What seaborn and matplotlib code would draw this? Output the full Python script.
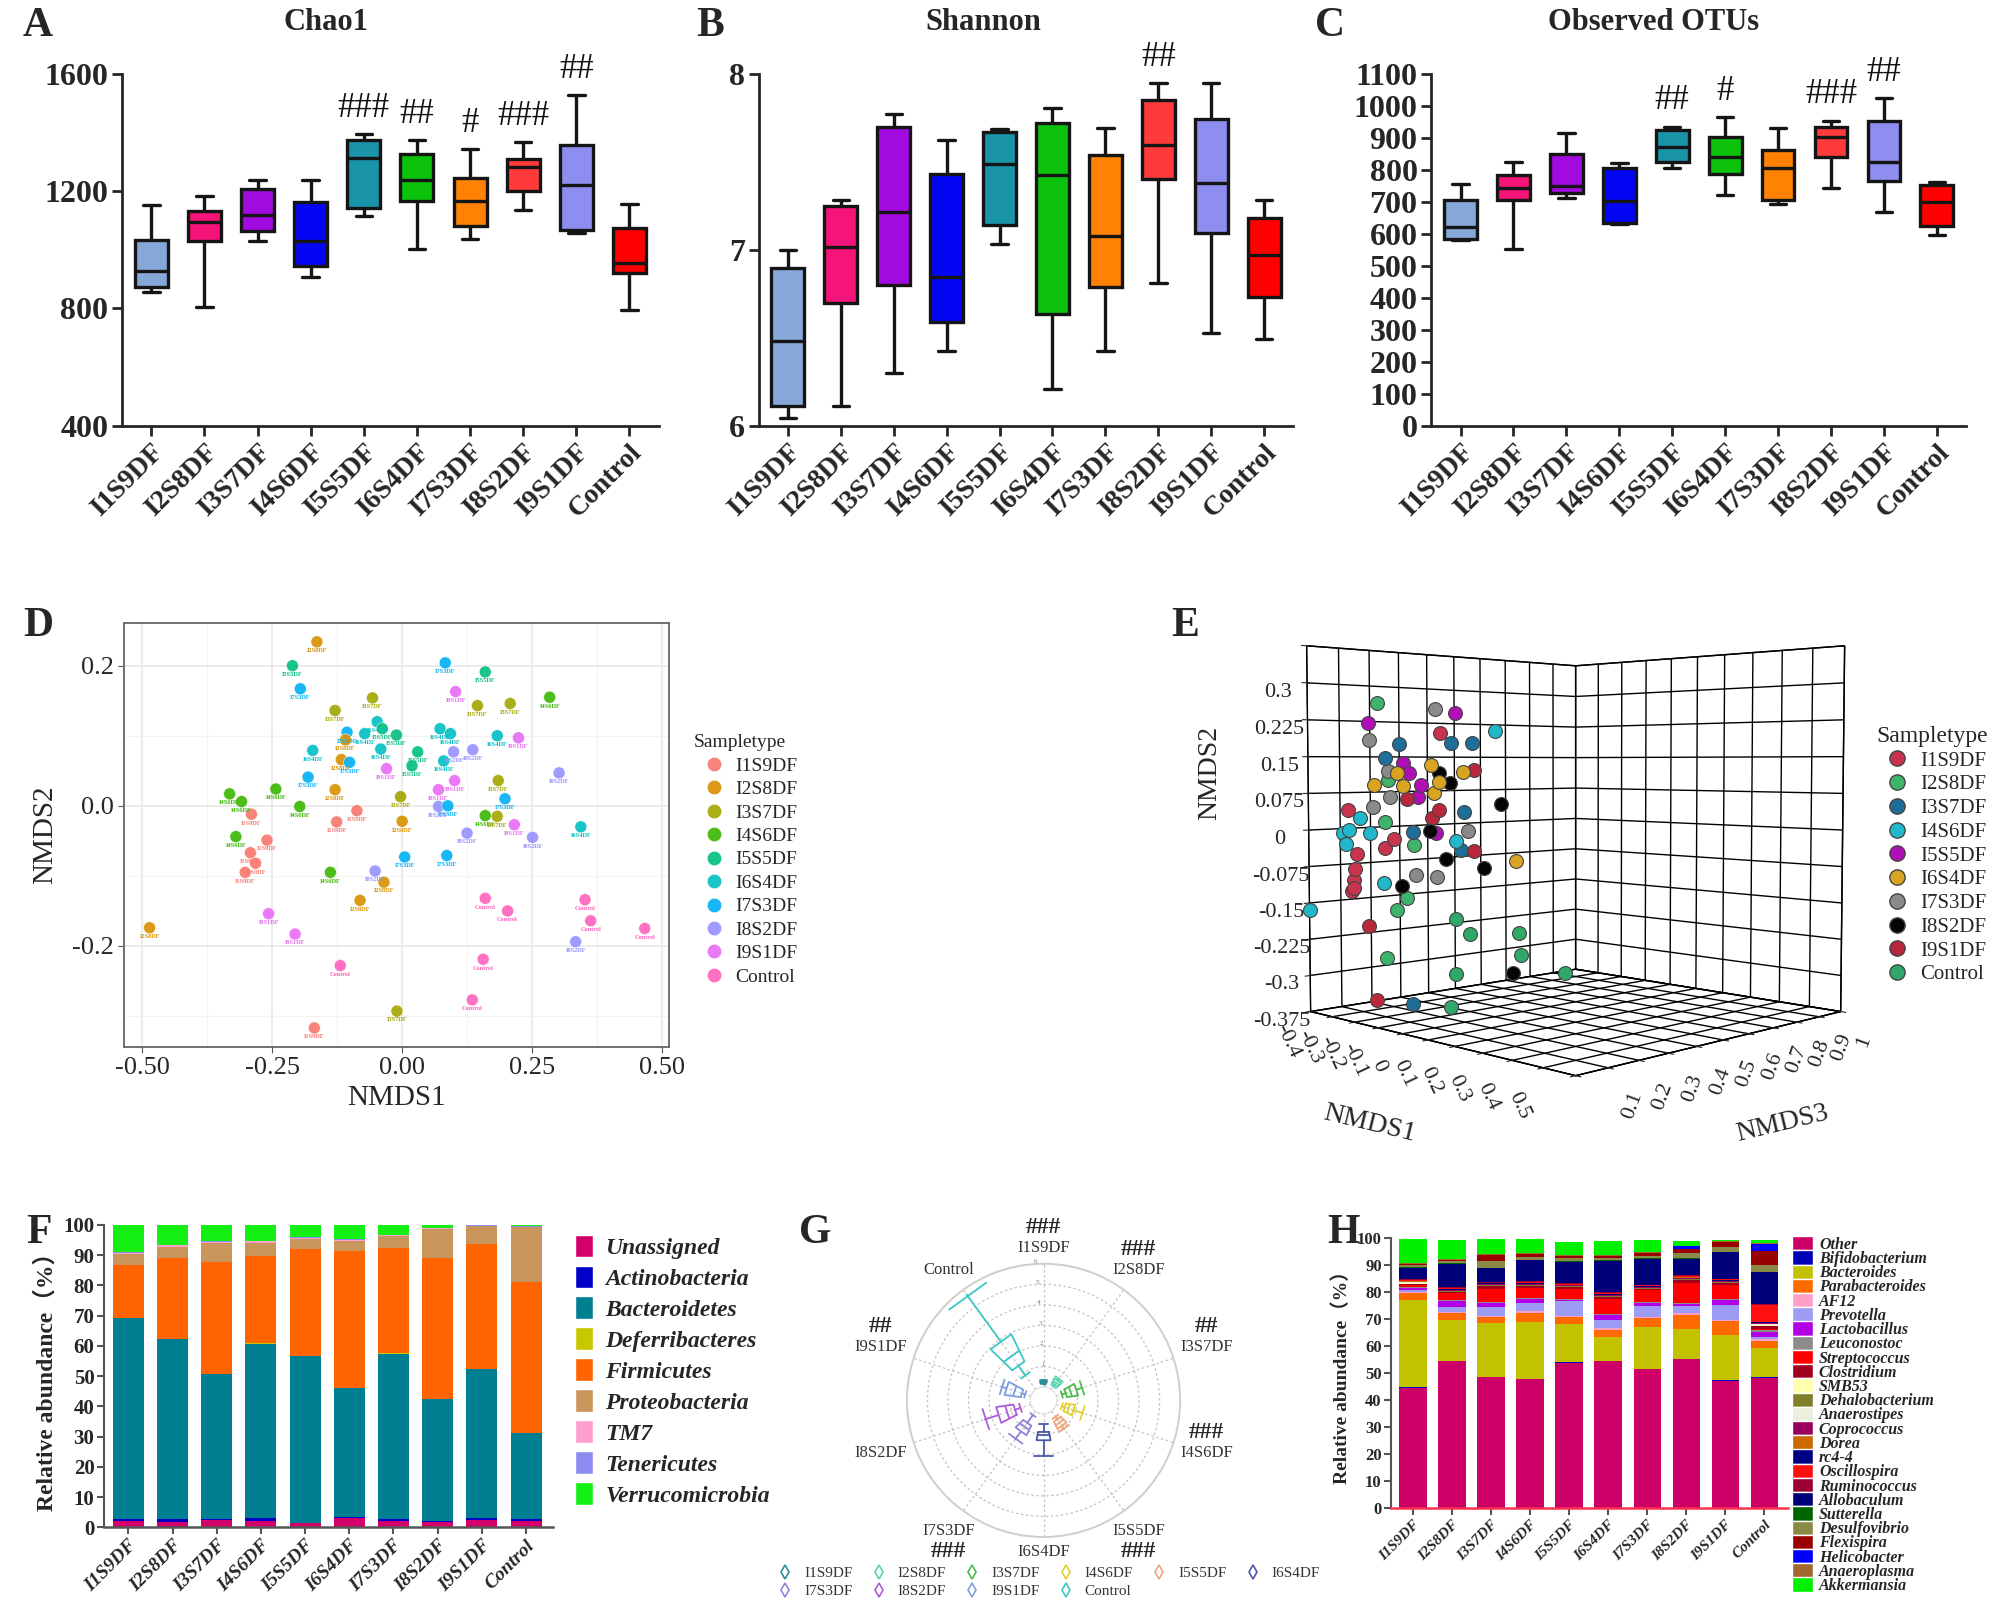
import matplotlib
matplotlib.use("Agg")
import matplotlib.pyplot as plt
import numpy as np
import pandas as pd
import seaborn as sns
from matplotlib.lines import Line2D
from matplotlib.patches import Patch

sns.set_style("ticks")
plt.rcParams["font.family"] = ["Liberation Serif", "Noto Sans CJK SC"]
plt.rcParams["axes.unicode_minus"] = False

GROUPS = ["I1S9DF", "I2S8DF", "I3S7DF", "I4S6DF", "I5S5DF",
          "I6S4DF", "I7S3DF", "I8S2DF", "I9S1DF", "Control"]
BOX_COLORS = ["#86A8D8", "#F51478", "#A20BE0", "#0505F5", "#1A94A8",
              "#0BC10B", "#FF8205", "#FF3A3A", "#8E8EF0", "#FF0000"]

chao1_min = [856, 804, 1031, 908, 1116, 1005, 1037, 1138, 1059, 796]
chao1_q1 = [874, 1029, 1064, 944, 1143, 1168, 1082, 1201, 1068, 920]
chao1_med = [929, 1096, 1121, 1031, 1316, 1240, 1168, 1283, 1223, 955]
chao1_q3 = [1034, 1134, 1207, 1165, 1376, 1328, 1247, 1312, 1360, 1074]
chao1_max = [1155, 1183, 1240, 1240, 1398, 1376, 1346, 1370, 1530, 1158]
chao1_marks = ["", "", "", "", "###", "##", "#", "###", "##", ""]

# ---- B: Shannon
shan_min = [6.044, 6.111, 6.30, 6.427, 7.032, 6.21, 6.423, 6.81, 6.528, 6.492]
shan_q1 = [6.111, 6.70, 6.80, 6.589, 7.143, 6.633, 6.79, 7.405, 7.097, 6.73]
shan_med = [6.482, 7.016, 7.214, 6.847, 7.49, 7.425, 7.079, 7.60, 7.381, 6.972]
shan_q3 = [6.895, 7.25, 7.70, 7.431, 7.671, 7.722, 7.54, 7.855, 7.748, 7.183]
shan_max = [7.00, 7.284, 7.774, 7.627, 7.688, 7.808, 7.694, 7.95, 7.95, 7.284]
shan_marks = ["", "", "", "", "", "", "", "##", "", ""]

# ---- C: Observed OTUs
otu_min = [580, 552, 713, 630, 807, 721, 695, 743, 669, 598]
otu_q1 = [585, 708, 729, 635, 825, 788, 708, 840, 766, 626]
otu_med = [621, 743, 749, 704, 874, 840, 807, 903, 827, 699]
otu_q3 = [708, 785, 851, 807, 927, 905, 864, 936, 955, 754]
otu_max = [758, 827, 918, 824, 936, 966, 933, 955, 1025, 762]
otu_marks = ["", "", "", "", "##", "#", "", "###", "##", ""]

# ---- D: NMDS (2D)
GG_COLORS = ["#F8766D", "#D89000", "#A3A500", "#39B600", "#00BF7D",
             "#00BFC4", "#00B0F6", "#9590FF", "#E76BF3", "#FF62BC"]
d_group = ["I2S8DF", "I5S5DF", "I7S3DF", "I3S7DF", "I3S7DF", "I7S3DF", "I5S5DF", "I9S1DF",
           "I3S7DF", "I3S7DF", "I4S6DF", "I6S4DF", "I5S5DF", "I6S4DF", "I7S3DF", "I2S8DF",
           "I5S5DF", "I6S4DF", "I6S4DF", "I5S5DF", "I2S8DF", "I7S3DF", "I9S1DF", "I5S5DF",
           "I6S4DF", "I6S4DF", "I6S4DF", "I8S2DF", "I8S2DF", "I6S4DF", "I9S1DF", "I8S2DF",
           "I7S3DF", "I9S1DF", "I3S7DF", "I9S1DF", "I7S3DF", "I3S7DF", "I2S8DF", "I4S6DF",
           "I4S6DF", "I4S6DF", "I1S9DF", "I4S6DF", "I1S9DF", "I1S9DF", "I2S8DF", "I8S2DF",
           "I7S3DF", "I4S6DF", "I3S7DF", "I9S1DF", "I8S2DF", "I8S2DF", "I6S4DF", "I4S6DF",
           "I1S9DF", "I1S9DF", "I1S9DF", "I1S9DF", "I7S3DF", "I7S3DF", "I4S6DF", "I8S2DF",
           "I2S8DF", "I2S8DF", "Control", "Control", "Control", "Control", "Control", "I9S1DF",
           "I9S1DF", "I2S8DF", "I8S2DF", "Control", "Control", "Control", "I3S7DF", "I1S9DF"]
d_nmds1 = [-0.164, -0.211, -0.196, -0.057, -0.129, 0.083, 0.160, 0.103, 0.145, 0.208,
           0.284, -0.048, -0.038, -0.072, -0.106, -0.109, -0.011, -0.041, -0.172, 0.030,
           -0.117, -0.101, -0.030, 0.019, 0.073, 0.093, 0.080, 0.099, 0.136, 0.183,
           0.224, 0.302, -0.181, 0.101, 0.185, 0.070, 0.198, -0.003, -0.129, -0.243,
           -0.332, -0.309, -0.290, -0.197, -0.087, -0.126, 0.000, 0.070, 0.088, 0.160,
           0.183, 0.216, 0.125, 0.251, 0.344, -0.320, -0.260, -0.292, -0.282, -0.302,
           0.005, 0.086, -0.138, -0.052, -0.035, -0.081, 0.160, 0.203, 0.352, 0.363,
           0.467, -0.257, -0.206, -0.486, 0.334, -0.119, 0.156, 0.135, -0.010, -0.169]
d_nmds2 = [0.234, 0.200, 0.167, 0.154, 0.136, 0.204, 0.191, 0.163, 0.143, 0.146,
           0.155, 0.120, 0.110, 0.103, 0.105, 0.094, 0.101, 0.081, 0.079, 0.077,
           0.066, 0.062, 0.053, 0.057, 0.110, 0.103, 0.064, 0.077, 0.080, 0.100,
           0.097, 0.047, 0.041, 0.036, 0.036, 0.023, 0.010, 0.013, 0.023, 0.024,
           0.017, 0.006, -0.012, -0.001, -0.007, -0.023, -0.022, -0.001, 0.000, -0.014,
           -0.015, -0.027, -0.039, -0.045, -0.030, -0.044, -0.049, -0.067, -0.082, -0.095,
           -0.073, -0.071, -0.095, -0.093, -0.109, -0.135, -0.132, -0.150, -0.134, -0.164,
           -0.175, -0.154, -0.183, -0.174, -0.194, -0.228, -0.219, -0.277, -0.293, -0.317]

# ---- E: NMDS (3D), screen positions converted to estimated coordinates
E_COLORS = ["#C8334D", "#3DB36B", "#1F6E99", "#22B8CC", "#B00FB5",
            "#D9A521", "#8A8A8A", "#050505", "#B8283C", "#2FA86A"]
e_group = ["I2S8DF", "I5S5DF", "I7S3DF", "I5S5DF", "I7S3DF", "I1S9DF", "I4S6DF", "I3S7DF",
           "I3S7DF", "I3S7DF", "I3S7DF", "I5S5DF", "I7S3DF", "I6S4DF", "I5S5DF", "I6S4DF",
           "I8S2DF", "I6S4DF", "I9S1DF", "I6S4DF", "I2S8DF", "I6S4DF", "I5S5DF", "I6S4DF",
           "I8S2DF", "I7S3DF", "I9S1DF", "I5S5DF", "I6S4DF", "I9S1DF", "I9S1DF", "I8S2DF",
           "I3S7DF", "I7S3DF", "I1S9DF", "I4S6DF", "I2S8DF", "I7S3DF", "I8S2DF", "I5S5DF",
           "I3S7DF", "I4S6DF", "I4S6DF", "I4S6DF", "I1S9DF", "I1S9DF", "I2S8DF", "I4S6DF",
           "I3S7DF", "I9S1DF", "I4S6DF", "I8S2DF", "I8S2DF", "I6S4DF", "I1S9DF", "I1S9DF",
           "I7S3DF", "I7S3DF", "I1S9DF", "I1S9DF", "I1S9DF", "I4S6DF", "I8S2DF", "I2S8DF",
           "I2S8DF", "Control", "I4S6DF", "Control", "Control", "Control", "I9S1DF", "Control",
           "I8S2DF", "I2S8DF", "Control", "Control", "I3S7DF", "I9S1DF"]
e_nmds1 = [-0.203, -0.244, 0.033, 0.111, -0.238, 0.054, 0.255, -0.110, 0.095, 0.171,
           -0.172, -0.096, -0.158, -0.121, -0.069, 0.019, 0.050, 0.140, 0.181, -0.217,
           -0.156, -0.094, -0.022, 0.048, 0.089, -0.151, -0.080, -0.034, 0.027, 0.048,
           0.019, 0.276, 0.142, -0.223, -0.336, -0.279, -0.172, 0.157, 0.013, 0.037,
           -0.055, -0.330, -0.357, -0.238, -0.135, -0.172, -0.053, 0.111, 0.132, 0.177,
           -0.347, 0.074, 0.214, 0.327, -0.295, -0.305, -0.045, 0.037, -0.312, -0.310,
           -0.320, -0.180, -0.104, -0.084, -0.125, 0.111, -0.400, 0.161, 0.335, 0.341,
           -0.244, 0.485, 0.315, -0.166, 0.109, 0.089, -0.059, -0.213]
e_nmds2 = [0.257, 0.217, 0.240, 0.230, 0.183, 0.193, 0.195, 0.174, 0.175, 0.173,
           0.147, 0.137, 0.122, 0.117, 0.117, 0.134, 0.118, 0.120, 0.125, 0.094,
           0.103, 0.092, 0.095, 0.102, 0.099, 0.071, 0.068, 0.071, 0.080, 0.048,
           0.033, 0.063, 0.046, 0.050, 0.041, 0.025, 0.020, 0.012, 0.007, 0.005,
           0.003, -0.001, -0.008, -0.003, -0.013, -0.032, -0.022, -0.009, -0.024, -0.025,
           -0.030, -0.043, -0.054, -0.036, -0.049, -0.079, -0.080, -0.079, -0.103, -0.118,
           -0.126, -0.102, -0.103, -0.126, -0.153, -0.154, -0.164, -0.179, -0.165, -0.204,
           -0.193, -0.222, -0.238, -0.250, -0.258, -0.322, -0.332, -0.340]
e_nmds3 = [0.08, 0.08, 0.08, 0.08, 0.08, 0.08, 0.08, 0.08, 0.08, 0.08,
           0.08, 0.08, 0.08, 0.08, 0.08, 0.08, 0.08, 0.08, 0.08, 0.08,
           0.08, 0.08, 0.08, 0.08, 0.08, 0.08, 0.08, 0.08, 0.08, 0.08,
           0.08, 0.08, 0.08, 0.08, 0.08, 0.08, 0.08, 0.08, 0.08, 0.08,
           0.08, 0.08, 0.08, 0.08, 0.08, 0.08, 0.08, 0.08, 0.08, 0.08,
           0.08, 0.08, 0.08, 0.08, 0.08, 0.08, 0.08, 0.08, 0.08, 0.08,
           0.08, 0.08, 0.08, 0.08, 0.08, 0.08, 0.00, 0.08, 0.08, 0.08,
           0.08, 0.08, 0.08, 0.08, 0.08, 0.08, 0.08, 0.08]

# ---- F: phylum relative abundance (%)
PHYLA = ["Unassigned", "Actinobacteria", "Bacteroidetes", "Deferribacteres", "Firmicutes",
         "Proteobacteria", "TM7", "Tenericutes", "Verrucomicrobia"]
PHYLA_COLORS = ["#D4006A", "#0000C8", "#007E92", "#C8C800", "#FF6400",
                "#C8955A", "#FF9FCF", "#8C8CF0", "#14F014"]
f_unassigned = [2.0, 1.9, 2.5, 2.2, 1.3, 3.2, 2.2, 1.8, 2.5, 2.1]
f_actino = [0.9, 0.8, 0.3, 0.9, 0.2, 0.2, 0.5, 0.4, 0.6, 0.7]
f_bacteroidetes = [66.2, 59.4, 47.8, 57.6, 55.1, 42.7, 54.7, 40.2, 49.1, 28.3]
f_deferri = [0.1, 0.1, 0.1, 0.1, 0.1, 0.1, 0.1, 0.1, 0.1, 0.1]
f_firmicutes = [17.5, 27.0, 37.1, 29.0, 35.3, 45.3, 34.8, 46.6, 41.5, 50.0]
f_proteo = [3.5, 3.6, 6.2, 4.2, 3.4, 3.3, 4.1, 9.6, 5.8, 18.0]
f_tm7 = [0.4, 0.4, 0.3, 0.5, 0.3, 0.3, 0.2, 0.2, 0.1, 0.2]
f_teneri = [0.3, 0.2, 0.2, 0.2, 0.2, 0.2, 0.1, 0.1, 0.1, 0.1]
f_verruco = [9.1, 6.6, 5.5, 5.3, 4.1, 4.7, 3.3, 1.0, 0.2, 0.5]

# ---- G: polar box plot (radius units of the polar grid)
G_COLORS = ["#2E8E98", "#5AD2B0", "#4DBB4D", "#E2D02A", "#F0A478",
            "#4B5AA8", "#9580DC", "#AE5CDE", "#7E9EE0", "#3CC6C6"]
g_min = [0.15, 0.20, 0.30, 0.30, 0.35, 0.50, 0.24, 0.55, 0.30, 0.88]
g_q1 = [0.22, 0.30, 0.50, 0.45, 0.50, 0.91, 0.72, 0.83, 0.47, 1.46]
g_med = [0.26, 0.42, 0.75, 0.65, 0.70, 1.04, 0.95, 1.24, 0.85, 2.05]
g_q3 = [0.30, 0.55, 1.05, 0.90, 0.90, 1.32, 1.24, 1.68, 1.27, 2.93]
g_max = [0.35, 0.65, 1.35, 1.37, 1.07, 2.08, 1.69, 2.35, 1.50, 5.72]
g_marks = ["###", "###", "##", "###", "###", "", "###", "", "##", ""]

# ---- H: genus relative abundance (%), stacked bottom to top
GENERA = ["Other", "Bifidobacterium", "Bacteroides", "Parabacteroides", "AF12", "Prevotella",
          "Lactobacillus", "Leuconostoc", "Streptococcus", "Clostridium", "SMB53",
          "Dehalobacterium", "Anaerostipes", "Coprococcus", "Dorea", "rc4-4", "Oscillospira",
          "Ruminococcus", "Allobaculum", "Sutterella", "Desulfovibrio", "Flexispira",
          "Helicobacter", "Anaeroplasma", "Akkermansia"]
GENUS_COLORS = ["#CC0066", "#0000B4", "#C2C200", "#FF6A00", "#FF9FC8", "#9C9CF5",
                "#B400E6", "#8C8C8C", "#FF0000", "#A0001E", "#FFFFB0",
                "#80802A", "#EEEEDC", "#9A0060", "#CC6A00", "#000082", "#FF1010",
                "#9A0032", "#00007A", "#006400", "#8A8A46", "#990000",
                "#0000FF", "#A0682E", "#00F000"]
h_other = [44.5, 54.3, 48.3, 47.6, 53.8, 54.3, 51.4, 55.0, 47.0, 48.1]
h_bifido = [0.1, 0.2, 0.2, 0.2, 0.2, 0.2, 0.2, 0.2, 0.2, 0.2]
h_bacteroides = [32.2, 15.1, 20.1, 21.2, 14.2, 8.8, 15.2, 11.2, 16.7, 11.0]
h_parabact = [2.6, 2.7, 2.1, 3.3, 2.4, 2.7, 3.4, 5.1, 5.2, 2.4]
h_af12 = [0.5, 0.3, 0.4, 0.5, 0.5, 0.5, 0.4, 0.5, 0.5, 0.8]
h_prevotella = [0.9, 1.8, 3.3, 3.0, 5.5, 3.0, 4.2, 2.8, 5.4, 0.8]
h_lacto = [0.6, 2.3, 1.3, 1.5, 0.5, 1.8, 1.0, 0.8, 1.8, 1.9]
h_leucon = [0.2, 0.3, 0.5, 0.4, 0.4, 0.4, 0.4, 0.4, 0.5, 0.5]
h_strep = [0.8, 2.5, 5.0, 3.8, 3.6, 5.5, 4.3, 7.4, 5.3, 0.6]
h_clost = [0.6, 0.4, 0.8, 0.6, 0.5, 0.8, 0.5, 1.0, 0.6, 1.2]
h_smb53 = [0.1, 0.1, 0.1, 0.1, 0.1, 0.1, 0.1, 0.1, 0.1, 0.1]
h_dehalo = [0.3, 0.3, 0.3, 0.3, 0.3, 0.3, 0.3, 0.3, 0.3, 0.3]
h_anaerost = [0.1, 0.1, 0.1, 0.1, 0.1, 0.1, 0.1, 0.1, 0.1, 0.1]
h_coproc = [0.3, 0.3, 0.3, 0.3, 0.3, 0.3, 0.3, 0.3, 0.3, 0.5]
h_dorea = [0.1, 0.1, 0.1, 0.1, 0.1, 0.1, 0.1, 0.1, 0.1, 0.1]
h_rc44 = [0.2, 0.2, 0.2, 0.2, 0.2, 0.2, 0.2, 0.2, 0.2, 0.2]
h_oscillo = [0.4, 0.3, 0.3, 0.3, 0.3, 0.3, 0.3, 0.3, 0.3, 6.3]
h_rumino = [0.3, 0.4, 0.3, 0.4, 0.3, 0.4, 0.3, 0.3, 0.3, 0.5]
h_allobac = [4.0, 8.6, 5.0, 7.7, 7.9, 11.6, 9.5, 6.0, 9.8, 11.6]
h_sutter = [0.2, 0.2, 0.2, 0.2, 0.2, 0.2, 0.2, 0.4, 0.2, 0.3]
h_desulfo = [0.9, 0.8, 2.5, 1.2, 1.0, 0.8, 0.8, 2.0, 1.7, 2.4]
h_flexi = [0.3, 0.5, 2.3, 1.0, 0.8, 0.8, 1.2, 1.5, 1.8, 5.3]
h_helico = [0.1, 0.1, 0.1, 0.1, 0.1, 0.1, 0.1, 0.8, 0.2, 2.6]
h_anaeropl = [0.2, 0.2, 0.2, 0.2, 0.2, 0.2, 0.2, 0.2, 0.2, 0.2]
h_akkerm = [9.2, 7.2, 5.6, 5.4, 5.0, 5.4, 4.5, 1.9, 0.5, 1.0]

DARK = "#262626"


def box_panel(ax, lo, q1, med, q3, hi, marks, pad, yticks, ylim):
    df = pd.DataFrame({"group": np.tile(GROUPS, 5),
                       "value": np.concatenate([lo, q1, med, q3, hi])})
    sns.boxplot(data=df, x="group", y="value", hue="group", order=GROUPS,
                hue_order=GROUPS, palette=BOX_COLORS, saturation=1, width=0.62,
                whis=(0, 100), linecolor="#151515", linewidth=2.4, legend=False, ax=ax)
    for i, mark in enumerate(marks):
        if mark:
            ax.text(i, hi[i] + pad, mark, ha="center", va="bottom", fontsize=25,
                    color="#111111", clip_on=False)
    ax.set_xlim(-0.55, 9.55)
    ax.set_ylim(*ylim)
    ax.set_yticks(yticks)
    ax.set_yticklabels([str(t) for t in yticks], fontsize=23, fontweight="bold")
    ax.set_xticks(range(len(GROUPS)))
    ax.set_xticklabels(GROUPS, rotation=45, ha="right", rotation_mode="anchor",
                       fontsize=20, fontweight="bold")
    ax.set_xlabel("")
    ax.set_ylabel("")
    for side in ["top", "right"]:
        ax.spines[side].set_visible(False)
    for side in ["left", "bottom"]:
        ax.spines[side].set_linewidth(2)
        ax.spines[side].set_color(DARK)
    ax.tick_params(axis="both", width=2, length=7, color=DARK, pad=3)


def stacked_panel(ax, layers, colors, fs_tick, fs_x, bottom_color):
    cum = np.cumsum(np.array(layers), axis=0)
    for vals, col in reversed(list(zip(cum, colors))):
        sns.barplot(x=GROUPS, y=vals, order=GROUPS, color=col, width=0.7, saturation=1,
                    errorbar=None, linewidth=0, ax=ax)
    ax.set_ylim(0, 100)
    ax.set_xlim(-0.55, 9.6)
    ax.set_yticks(range(0, 101, 10))
    ax.set_yticklabels([str(t) for t in range(0, 101, 10)], fontsize=fs_tick, fontweight="bold")
    ax.set_xticks(range(len(GROUPS)))
    ax.set_xticklabels(GROUPS, rotation=45, ha="right", rotation_mode="anchor",
                       fontsize=fs_x, fontweight="bold", fontstyle="italic")
    ax.set_ylabel("Relative abundance（%）", fontsize=fs_tick + 2, fontweight="bold")
    ax.set_xlabel("")
    for side in ["top", "right"]:
        ax.spines[side].set_visible(False)
    ax.spines["left"].set_color("#555555")
    ax.spines["left"].set_linewidth(1.5)
    ax.spines["bottom"].set_color(bottom_color)
    ax.spines["bottom"].set_linewidth(1.8)
    ax.tick_params(axis="both", width=1.5, length=5, color="#555555", pad=2)


fig = plt.figure(figsize=(20.02, 16.18), dpi=100)

# ---------------- E (created first and kept transparent so it never hides panel C)
plt.rcParams["grid.color"] = "black"
plt.rcParams["grid.linewidth"] = 1.0
plt.rcParams["grid.linestyle"] = "-"
axe = fig.add_axes([0.588, 0.297, 0.39, 0.37], projection="3d")
axe.set_facecolor((1, 1, 1, 0))
axe.patch.set_visible(False)
axe.set_proj_type("persp", focal_length=0.4)
axe.view_init(elev=3, azim=-45)
axe.set_box_aspect((1, 1, 0.97), zoom=1.05)
for axis in (axe.xaxis, axe.yaxis, axe.zaxis):
    axis.set_pane_color((1, 1, 1, 1))
    axis.pane.set_edgecolor("black")
    axis.line.set_color("black")
axe.zaxis.set_ticks_position("lower")
for g, col in zip(GROUPS, E_COLORS):
    idx = [i for i, v in enumerate(e_group) if v == g]
    axe.scatter([e_nmds1[i] for i in idx], [e_nmds3[i] for i in idx],
                [e_nmds2[i] for i in idx], s=100, color=col, edgecolors="#444444",
                linewidths=0.8, depthshade=False, alpha=1)
x3 = np.linspace(-0.4, 0.6, 11)
y3 = np.linspace(0, 1, 11)
z3 = np.linspace(-0.375, 0.375, 11)
axe.set_xlim(-0.4, 0.6)
axe.set_ylim(0, 1)
axe.set_zlim(-0.375, 0.375)
axe.set_xticks(x3)
axe.set_xticklabels(["-0.4", "-0.3", "-0.2", "-0.1", "0", "0.1", "0.2", "0.3", "0.4", "0.5", ""],
                    rotation=-65, va="center", ha="center")
axe.set_yticks(y3)
axe.set_yticklabels(["", "0.1", "0.2", "0.3", "0.4", "0.5", "0.6", "0.7", "0.8", "0.9", "1"],
                    rotation=70, va="center", ha="center")
axe.set_zticks(z3)
axe.set_zticklabels(["-0.375", "-0.3", "-0.225", "-0.15", "-0.075", "0", "0.075",
                     "0.15", "0.225", "0.3", ""])
axe.tick_params(axis="both", labelsize=16)
axe.tick_params(axis="z", pad=4)
axe.tick_params(axis="x", pad=8)
axe.tick_params(axis="y", pad=8)
axe.set_xlabel("NMDS1", fontsize=20, labelpad=18)
axe.set_ylabel("NMDS3", fontsize=20, labelpad=18)
axe.set_zlabel("")
fig.text(0.604, 0.522, "NMDS2", rotation=90, ha="center", va="center", fontsize=20)
e_handles = [Line2D([], [], marker="o", ls="", markerfacecolor=c, markeredgecolor="#444444",
                    markersize=11) for c in E_COLORS]
fig.legend(e_handles, GROUPS, title="Sampletype", loc="upper left",
           bbox_to_anchor=(0.928, 0.563), frameon=False, fontsize=15, title_fontsize=17,
           handletextpad=0.1, labelspacing=0.2, alignment="left")

# ---------------- A, B, C
axa = fig.add_axes([0.061, 0.737, 0.268, 0.217])
box_panel(axa, chao1_min, chao1_q1, chao1_med, chao1_q3, chao1_max, chao1_marks, 30,
          [400, 800, 1200, 1600], (400, 1600))
axb = fig.add_axes([0.379, 0.737, 0.267, 0.217])
box_panel(axb, shan_min, shan_q1, shan_med, shan_q3, shan_max, shan_marks, 0.05,
          [6, 7, 8], (6, 8))
axc = fig.add_axes([0.715, 0.737, 0.267, 0.217])
box_panel(axc, otu_min, otu_q1, otu_med, otu_q3, otu_max, otu_marks, 30,
          list(range(0, 1101, 100)), (0, 1100))
for x, title in [(0.163, "Chao1"), (0.491, "Shannon"), (0.826, "Observed OTUs")]:
    fig.text(x, 0.986, title, ha="center", va="center", fontsize=22, fontweight="bold")

# ---------------- D
axd = fig.add_axes([0.062, 0.353, 0.272, 0.262])
d_df = pd.DataFrame({"NMDS1": d_nmds1, "NMDS2": d_nmds2, "Sampletype": d_group})
sns.scatterplot(data=d_df, x="NMDS1", y="NMDS2", hue="Sampletype", hue_order=GROUPS,
                palette=GG_COLORS, s=75, edgecolor="white", linewidth=0.4, alpha=0.9, ax=axd)
color_of = dict(zip(GROUPS, GG_COLORS))
for x, y, g in zip(d_nmds1, d_nmds2, d_group):
    axd.text(x, y - 0.009, g, color=color_of[g], fontsize=4.6, fontweight="bold",
             ha="center", va="top")
axd.set_xlim(-0.535, 0.513)
axd.set_ylim(-0.344, 0.261)
axd.set_xticks([-0.5, -0.25, 0.0, 0.25, 0.5])
axd.set_xticklabels(["-0.50", "-0.25", "0.00", "0.25", "0.50"], fontsize=19)
axd.set_yticks([-0.2, 0.0, 0.2])
axd.set_yticklabels(["-0.2", "0.0", "0.2"], fontsize=19)
axd.set_xticks([-0.375, -0.125, 0.125, 0.375], minor=True)
axd.set_yticks([-0.3, -0.1, 0.1], minor=True)
axd.set_axisbelow(True)
axd.grid(which="major", color="#EBEBEB", linewidth=1.4)
axd.grid(which="minor", color="#F3F3F3", linewidth=0.8)
axd.tick_params(which="minor", length=0)
axd.tick_params(which="major", length=4, color="#555555")
for side in axd.spines.values():
    side.set_color("#666666")
    side.set_linewidth(1.3)
axd.set_xlabel("NMDS1", fontsize=21)
axd.set_ylabel("NMDS2", fontsize=21, labelpad=10)
handles, labels = axd.get_legend_handles_labels()
axd.legend(handles, labels, title="Sampletype", loc="upper left",
           bbox_to_anchor=(0.338, 0.557), bbox_transform=fig.transFigure, frameon=False,
           fontsize=14, title_fontsize=14, handletextpad=0.1, labelspacing=0.3,
           markerscale=1.2, alignment="left")

# ---------------- F
axf = fig.add_axes([0.052, 0.056, 0.224, 0.187])
stacked_panel(axf, [f_unassigned, f_actino, f_bacteroidetes, f_deferri, f_firmicutes,
                    f_proteo, f_tm7, f_teneri, f_verruco],
              PHYLA_COLORS, 15, 14, "#555555")
f_handles = [Patch(facecolor=c) for c in PHYLA_COLORS]
fig.legend(f_handles, PHYLA, loc="upper left", bbox_to_anchor=(0.287, 0.237),
           frameon=False, prop={"weight": "bold", "style": "italic", "size": 17},
           handlelength=0.8, handleheight=1.1, labelspacing=0.28, handletextpad=0.5,
           borderaxespad=0, borderpad=0)

# ---------------- G
axg = fig.add_axes([0.453, 0.050, 0.1365, 0.169], projection="polar")
axg.set_theta_zero_location("N")
axg.set_theta_direction(-1)
theta = np.deg2rad(np.arange(len(GROUPS)) * 36)
g_data = [[a, b, c, d, e] for a, b, c, d, e in zip(g_min, g_q1, g_med, g_q3, g_max)]
bp = axg.boxplot(g_data, positions=theta, widths=0.35, capwidths=0.35, whis=(0, 100),
                 manage_ticks=False, showfliers=False)
for i, col in enumerate(G_COLORS):
    for art in [bp["boxes"][i], bp["medians"][i], bp["whiskers"][2 * i],
                bp["whiskers"][2 * i + 1], bp["caps"][2 * i], bp["caps"][2 * i + 1]]:
        art.set_color(col)
        art.set_linewidth(1.3)
axg.set_rorigin(-0.65)
axg.set_ylim(0, 6)
axg.set_xticks(theta)
axg.set_xticklabels([])
axg.set_yticks(range(7))
axg.set_yticklabels([str(i) for i in range(7)], fontsize=5, color="#777777")
axg.set_rlabel_position(-4)
axg.grid(True, linestyle=(0, (2, 2)), color="#C4C4C4", linewidth=0.9)
axg.spines["polar"].set_color("#CFCFCF")
axg.spines["polar"].set_linewidth(1.4)
axg.spines["inner"].set_color("#D8D8D8")
axg.spines["inner"].set_linestyle((0, (2, 2)))
g_label_r = [6.75, 7.2, 7.7, 7.7, 7.2, 6.75, 7.2, 7.7, 7.7, 7.2]
for i, g in enumerate(GROUPS):
    axg.text(theta[i], g_label_r[i], g, ha="center", va="center", fontsize=12,
             color="#333333", clip_on=False)
    if g_marks[i]:
        dy = -15 if g in ("I5S5DF", "I7S3DF") else 15
        axg.annotate(g_marks[i], xy=(theta[i], g_label_r[i]), xytext=(0, dy),
                     textcoords="offset points", ha="center", va="center",
                     fontsize=17, fontweight="bold", annotation_clip=False)
# legend reads row by row: first six groups on top, remaining four below
g_order = [0, 6, 1, 7, 2, 8, 3, 9, 4, 5]
g_handles = [Line2D([], [], marker="d", ls="", markerfacecolor="none",
                    markeredgecolor=G_COLORS[i], markeredgewidth=1.2, markersize=7)
             for i in g_order]
fig.legend(g_handles, [GROUPS[i] for i in g_order], loc="center",
           bbox_to_anchor=(0.522, 0.022), ncol=6, frameon=False, fontsize=11,
           handletextpad=0.25, columnspacing=0.7, labelspacing=0.3, labelcolor="#333333")

# ---------------- H
axh = fig.add_axes([0.695, 0.068, 0.198, 0.167])
stacked_panel(axh, [h_other, h_bifido, h_bacteroides, h_parabact, h_af12, h_prevotella,
                    h_lacto, h_leucon, h_strep, h_clost, h_smb53, h_dehalo, h_anaerost,
                    h_coproc, h_dorea, h_rc44, h_oscillo, h_rumino, h_allobac, h_sutter,
                    h_desulfo, h_flexi, h_helico, h_anaeropl, h_akkerm],
              GENUS_COLORS, 12, 11, "#FF3050")
h_handles = [Patch(facecolor=c) for c in GENUS_COLORS]
fig.legend(h_handles, GENERA, loc="upper left", bbox_to_anchor=(0.895, 0.236),
           frameon=False, prop={"weight": "bold", "style": "italic", "size": 11.5},
           handlelength=1.3, handleheight=1.0, labelspacing=-0.15, handletextpad=0.4,
           borderaxespad=0, borderpad=0)

# ---------------- panel letters
for x, y, letter in [(0.0115, 0.984, "A"), (0.348, 0.984, "B"), (0.657, 0.984, "C"),
                     (0.0115, 0.613, "D"), (0.585, 0.613, "E"), (0.013, 0.238, "F"),
                     (0.399, 0.238, "G"), (0.663, 0.238, "H")]:
    fig.text(x, y, letter, ha="left", va="center", fontsize=30, fontweight="bold")

fig.savefig("out.png", dpi=100)
